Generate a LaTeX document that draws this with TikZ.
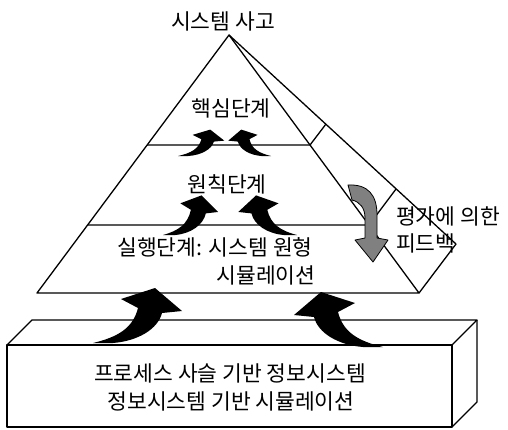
\documentclass[tikz,border=0pt]{standalone}
\usepackage{fontspec}
\newfontfamily\kr{Noto Sans CJK KR}
\newcommand\blkarrow{\fill[black] (0,0) .. controls (25,-6) and (40,-15) .. (45,-35) -- (28,-44) -- (62,-55) -- (89,-32) -- (69,-30) .. controls (65,-14) and (45,-2) .. (20,0) -- cycle;}
\begin{document}
\begin{tikzpicture}[x=1pt,y=-1pt, line join=round,
  edge/.style={line width=1.3pt},
  lbl/.style={font=\kr\fontsize{21.5}{24}\selectfont, inner sep=0pt}]
\useasboundingbox (0,0) rectangle (508,429);
% pyramid
\coordinate (apex) at (229,35);
\coordinate (bl) at (37,293);
\coordinate (br) at (419,293);
\coordinate (bb) at (456,244);
\coordinate (l1a) at (147,145);
\coordinate (l1b) at (310,145);
\coordinate (l1c) at (326,124);
\coordinate (l2a) at (88,225);
\coordinate (l2b) at (369,225);
\coordinate (l2c) at (396,189);
\draw[edge] (bl) -- (apex) -- (br) -- cycle;
\draw[edge] (apex) -- (bb) -- (br);
\draw[edge] (l1a) -- (l1b) -- (l1c);
\draw[edge] (l2a) -- (l2b) -- (l2c);
% box
\coordinate (fa) at (7,345);
\coordinate (fb) at (452,345);
\coordinate (fc) at (452,427);
\coordinate (fd) at (7,427);
\coordinate (ta) at (32,320);
\coordinate (tb) at (477,320);
\coordinate (rb) at (477,402);
\draw[edge] (fa) -- (fb) -- (fc) -- (fd) -- cycle;
\draw[edge] (fa) -- (ta) -- (tb) -- (fb);
\draw[edge] (tb) -- (rb) -- (fc);
% black arrows
\begin{scope}[shift={(93,343)}] \blkarrow \end{scope}
\begin{scope}[shift={(383,347)},xscale=-1] \blkarrow \end{scope}
\begin{scope}[shift={(163,235)},xscale=0.62,yscale=0.72] \blkarrow \end{scope}
\begin{scope}[shift={(297,235)},xscale=-0.66,yscale=0.72] \blkarrow \end{scope}
\begin{scope}[shift={(178,156)},xscale=0.52,yscale=0.48] \blkarrow \end{scope}
\begin{scope}[shift={(271,156)},xscale=-0.48,yscale=0.48] \blkarrow \end{scope}
% feedback arrow
\filldraw[fill=black!50, draw=black, line width=0.8pt] (348,185) .. controls (368,184) and (377,195) .. (377,215) -- (377,238) -- (388,240) -- (373,262) -- (355,240) -- (365,238) -- (365,218) .. controls (365,208) and (360,202) .. (352,200) -- cycle;
% labels
\node[lbl] (top) at (223,21) {시스템 사고};
\node[lbl] (core) at (231,108) {핵심단계};
\node[lbl] (prin) at (227,184) {원칙단계};
\node[lbl] (exec) at (215,247) {실행단계: 시스템 원형};
\node[lbl] (sim) at (266,275) {시뮬레이션};
\node[lbl, anchor=west] (fb1) at (396,216) {평가에 의한};
\node[lbl, anchor=west] (fb2) at (396,243) {피드백};
\node[lbl] (box1) at (230,373) {프로세스 사슬 기반 정보시스템};
\node[lbl] (box2) at (231,401) {정보시스템 기반 시뮬레이션};
\end{tikzpicture}
\end{document}
